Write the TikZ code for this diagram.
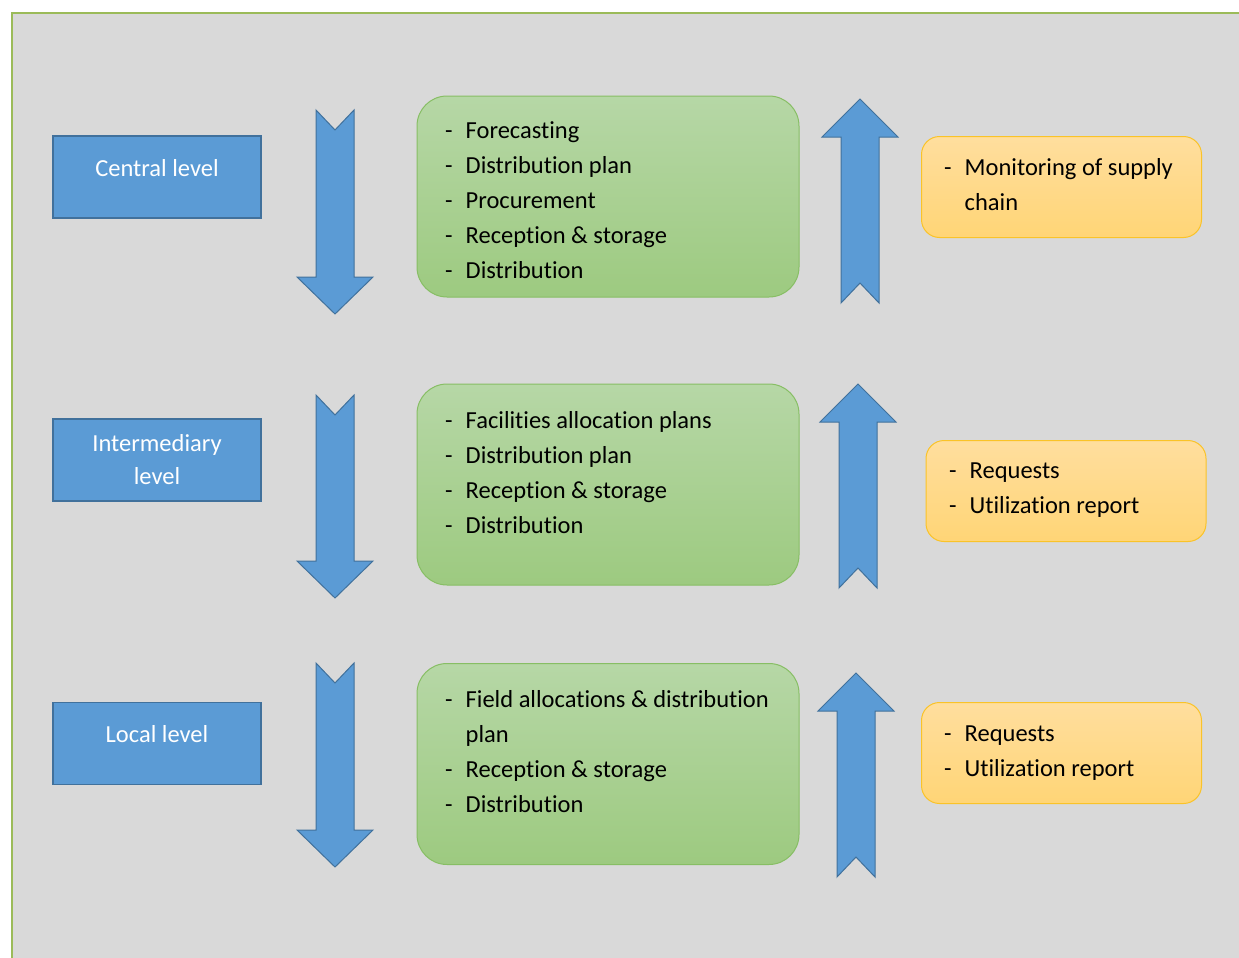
\documentclass[tikz,border=0pt]{standalone}
\usepackage{fontspec}
\setmainfont[RawFeature=-liga]{Carlito}
\definecolor{bg}{RGB}{217,217,217}
\definecolor{frame}{RGB}{155,187,89}
\definecolor{bluefill}{RGB}{91,155,213}
\definecolor{blueline}{RGB}{65,113,156}
\definecolor{gtop}{RGB}{182,215,166}
\definecolor{gbot}{RGB}{157,202,128}
\definecolor{gline}{RGB}{135,190,100}
\definecolor{otop}{RGB}{255,222,158}
\definecolor{obot}{RGB}{255,213,118}
\definecolor{oline}{RGB}{250,195,40}
\begin{document}
\begin{tikzpicture}[x=1pt,y=-1pt,
  levelbox/.style={draw=blueline,line width=1.2pt,fill=bluefill,
    minimum width=208pt,minimum height=82pt,inner sep=0pt},
  leveltext/.style={text=white,inner sep=0pt,align=center,font=\fontsize{24.5}{33}\selectfont},
  taskbox/.style={draw=gline,line width=1pt,rounded corners=30pt,top color=gtop,bottom color=gbot,
    minimum width=382pt,minimum height=201pt,inner sep=0pt},
  infobox/.style={draw=oline,line width=1pt,rounded corners=18pt,top color=otop,bottom color=obot,
    minimum width=280pt,minimum height=101pt,inner sep=0pt},
  listtext/.style={anchor=north west,inner sep=0pt,align=left,font=\fontsize{24.5}{35}\selectfont},
  blockarrow/.style={draw=blueline,line width=1pt,fill=bluefill,line join=miter}
]
\useasboundingbox (0,0) rectangle (1239,958);
% background panel
\fill[bg] (12,13) rectangle (1239,958);
\draw[frame,line width=2pt] (12,958) -- (12,13) -- (1239,13);

% level boxes
\node[levelbox] (central) at (157,177) {};
\node[leveltext] (centraltext) at (157,168) {Central level};
\node[levelbox] (inter) at (157,460) {};
\node[leveltext] (intertext) at (157,460) {Intermediary\\level};
\node[levelbox] (local) at (157,743.5) {};
\node[leveltext] (localtext) at (157,734) {Local level};

% down arrows
\newcommand{\myDownArrow}[3]{% x top tip
  \draw[blockarrow] (#1-19,#2) -- (#1,#2+20) -- (#1+19,#2) -- (#1+19,#3-37)
    -- (#1+38,#3-37) -- (#1,#3) -- (#1-38,#3-37) -- (#1-19,#3-37) -- cycle;}
\myDownArrow{335}{110}{314}
\myDownArrow{335}{395}{598}
\myDownArrow{335}{663}{867}

% up arrows
\newcommand{\myUpArrow}[3]{% x tip bottom
  \draw[blockarrow] (#1,#2) -- (#1+38,#2+38) -- (#1+19,#2+38) -- (#1+19,#3)
    -- (#1,#3-20) -- (#1-19,#3) -- (#1-19,#2+38) -- (#1-38,#2+38) -- cycle;}
\myUpArrow{860}{99}{303}
\myUpArrow{858}{384}{588}
\myUpArrow{856}{673}{877}

% task boxes
\node[taskbox] (t1) at (608,196.5) {};
\node[taskbox] (t2) at (608,484.5) {};
\node[taskbox] (t3) at (608,764) {};

\newcommand{\li}[1]{-&#1\\}
\newcommand{\lst}[1]{\begin{tabular}{@{}l@{\hspace{13pt}}l@{}}#1\end{tabular}}
\node[listtext] (t1text) at (445,113.5) {\lst{\li{Forecasting}\li{Distribution plan}\li{Procurement}\li{Reception \& storage}\li{Distribution}}};
\node[listtext] (t2text) at (445,403.5) {\lst{\li{Facilities allocation plans}\li{Distribution plan}\li{Reception \& storage}\li{Distribution}}};
\node[listtext] (t3text) at (445,682.5) {\lst{\li{Field allocations \& distribution}&plan\\\li{Reception \& storage}\li{Distribution}}};

% info boxes
\node[infobox] (i1) at (1061.5,187) {};
\node[infobox] (i2) at (1066,491) {};
\node[infobox] (i3) at (1061.5,753) {};

\node[listtext] (i1text) at (944,150.5) {\lst{\li{Monitoring of supply}&chain\\}};
\node[listtext] (i2text) at (949,453.5) {\lst{\li{Requests}\li{Utilization report}}};
\node[listtext] (i3text) at (944,716.5) {\lst{\li{Requests}\li{Utilization report}}};
\end{tikzpicture}
\end{document}
